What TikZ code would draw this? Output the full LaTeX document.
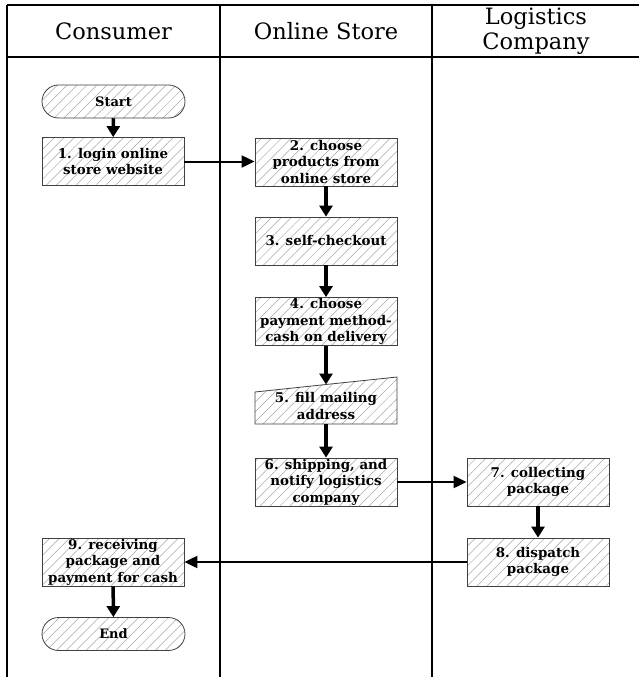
\documentclass[tikz,border=0pt]{standalone}
\usepackage{fontspec}
\setmainfont{DejaVu Serif}
\usetikzlibrary{patterns.meta,arrows.meta,shapes.misc}
\begin{document}
\begin{tikzpicture}[x=1pt,y=-1pt,
  hatch/.style={pattern={Lines[angle=45,distance=7pt,line width=0.5pt]},pattern color=black!35},
  procbox/.style={draw=black!75,line width=0.8pt,hatch,minimum width=142pt,minimum height=48pt,inner sep=0pt,align=center,font=\bfseries\fontsize{13.4}{16.5}\selectfont},
  termbox/.style={draw=black!75,line width=0.8pt,hatch,rounded rectangle,minimum width=143pt,minimum height=33pt,inner sep=0pt,font=\bfseries\fontsize{13}{16}\selectfont},
  vflow/.style={line width=3.5pt,-{Triangle[length=11pt,width=13pt]}},
  hflow/.style={line width=2pt,-{Triangle[length=13pt,width=12pt]}},
  lane/.style={line width=1.2pt},
  head/.style={font=\fontsize{22.5}{25}\selectfont,align=center}]
\useasboundingbox (0,0) rectangle (639,677);
% swimlane table
\draw[lane] (7,5) -- (645,5);
\draw[lane] (7,57) -- (645,57);
\draw[lane] (7,5) -- (7,680);
\draw[lane] (220,5) -- (220,680);
\draw[lane] (432,5) -- (432,680);
\node[head] (h1) at (113.5,31) {Consumer};
\node[head] (h2) at (326,31) {Online Store};
\node[head] (h3) at (536,31) {Logistics\\Company};
% nodes
\node[termbox] (s) at (113.5,101.5) {Start};
\node[procbox] (n1) at (113,161.5) {1. login online\\store website};
\node[procbox] (n2) at (326,162) {2. choose\\products from\\online store};
\node[procbox] (n3) at (326,241) {3. self-checkout};
\node[procbox] (n4) at (326,321.5) {4. choose\\payment method-\\cash on delivery};
\draw[draw=black!75,line width=0.8pt,hatch] (255,392) -- (397,377) -- (397,424) -- (255,424) -- cycle;
\node[align=center,font=\bfseries\fontsize{13.4}{16.5}\selectfont] (n5) at (326,406) {5. fill mailing\\address};
\coordinate (n5top) at (326,384.5);
\coordinate (n5bot) at (326,424);
\node[procbox] (n6) at (326,482) {6. shipping, and\\notify logistics\\company};
\node[procbox] (n7) at (538,482) {7. collecting\\package};
\node[procbox] (n8) at (538,562) {8. dispatch\\package};
\node[procbox] (n9) at (113,562) {9. receiving\\package and\\payment for cash};
\node[termbox] (e) at (113.5,634) {End};
% connectors
\draw[vflow] (s) -- (n1);
\draw[hflow] (n1.east) -- (n1.east -| n2.west);
\draw[vflow] (n2) -- (n3);
\draw[vflow] (n3) -- (n4);
\draw[vflow] (n4) -- (n5top);
\draw[vflow] (n5bot) -- (n6);
\draw[hflow] (n6) -- (n7);
\draw[vflow] (n7) -- (n8);
\draw[hflow] (n8) -- (n9);
\draw[vflow] (n9) -- (e);
\end{tikzpicture}
\end{document}
